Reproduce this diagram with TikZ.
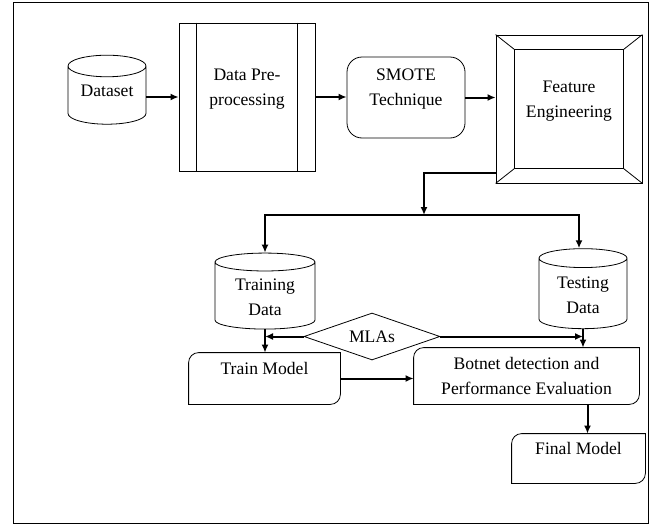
\documentclass[tikz,border=0pt]{standalone}
\usepackage{fontspec}
\setmainfont{Liberation Serif}
\usetikzlibrary{arrows.meta,shapes.geometric,calc}
\tikzset{%
  >={Latex[width=7pt,length=8pt]},
          base/.style = {draw=black, line width=0.8pt, align=center,
                         inner sep=2pt, font=\fontsize{17.6}{25}\selectfont},
  store/.style = {base, cylinder, shape border rotate=90, aspect=0.38},
  proc/.style  = {base, rectangle},
  soft/.style  = {base, rectangle, rounded corners=15pt},
  choice/.style = {base, diamond, aspect=2.9},
  task/.style  = {base, rectangle, draw=none},
  flow/.style  = {->, line width=2pt},
  lift/.style  = {text depth=#1},
}

\begin{document}
\begin{tikzpicture}[x=1pt, y=-1pt]
  \useasboundingbox (0,0) rectangle (654,525);
  \draw[line width=0.8pt] (13,2) rectangle (648,523);

  % top row
  \node (ds)    [store, minimum width=78pt, minimum height=69pt, lift=12pt]  at (107,97)  {Dataset};
  \node (pre)   [proc, minimum width=136pt, minimum height=148pt, lift=20pt] at (247,97) {Data Pre-\\processing};
  \node (smote) [soft, minimum width=118pt, minimum height=81pt, lift=20pt]  at (406,97.5) {SMOTE\\Technique};
  \node (fe)    [proc, minimum width=146pt, minimum height=148pt, lift=20pt] at (569,109) {Feature\\Engineering};

  % data split
  \node (tr)  [store, aspect=0.28, minimum width=100pt, minimum height=76pt] at (265,297) {Training\\Data};
  \node (te)  [store, aspect=0.34, minimum width=88pt, minimum height=80pt]  at (583,295) {Testing\\Data};
  \node (mla) [choice, minimum width=136pt, minimum height=47pt] at (372,336.5) {MLAs};

  % models
  \node (tm)  [task, minimum width=151pt, minimum height=51pt, lift=20pt] at (264.5,378.5) {Train Model};
  \node (bot) [task, minimum width=225pt, minimum height=56pt] at (526.5,376) {Botnet detection and\\Performance Evaluation};
  \node (fin) [task, minimum width=133pt, minimum height=49pt, lift=20pt] at (578.5,458.5) {Final Model};

  \coordinate (split) at (424,215);

  % extra lines of the shapes
  \draw[line width=0.8pt] ($(pre.north west)+(18,0)$) -- ($(pre.south west)+(18,0)$);
  \draw[line width=0.8pt] ($(pre.north east)+(-18,0)$) -- ($(pre.south east)+(-18,0)$);
  \draw[line width=0.8pt] ($(fe.north west)+(19,15)$) rectangle ($(fe.south east)+(-19,-15)$);
  \draw[line width=0.8pt] (fe.north west) -- +(19,15)  (fe.north east) -- +(-19,15)
                          (fe.south west) -- +(19,-15) (fe.south east) -- +(-19,-15);
  \foreach \b in {tm,bot,fin}
    \draw[line width=0.8pt] (\b.south west) [rounded corners=10pt] -- (\b.north west) [sharp corners] -- (\b.north east)
      [rounded corners=10pt] -- (\b.south east) [sharp corners] -- cycle;

  \draw[flow] (ds.east)    -- (ds.east -| pre.west);
  \draw[flow] (pre.east)   -- (pre.east -| smote.west);
  \draw[flow] (smote.east) -- (smote.east -| fe.west);
  \draw[flow] ([yshift=10pt]fe.south west) -| (split);
  \draw[flow] (split) -| (tr.north);
  \draw[flow] (split) -| ([xshift=-4pt]te.north);
  \draw[flow] (tr.south)   -- (tr.south |- tm.north);
  \draw[flow] (mla.west)   -- (mla.west -| tr.south);
  \draw[flow] (mla.east)   -- (mla.east -| te.south);
  \draw[flow] (te.south)   -- (te.south |- bot.north);
  \draw[flow] (tm.east)    -- (tm.east -| bot.west);
  \draw[flow] ([xshift=9pt]bot.south -| fin.north) -- ([xshift=9pt]fin.north);
\end{tikzpicture}
\end{document}
